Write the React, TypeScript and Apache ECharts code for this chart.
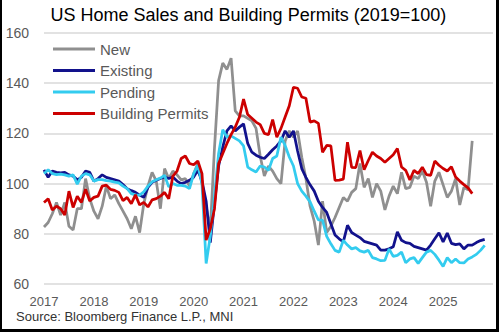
import React, { useEffect, useRef } from "react";
import * as echarts from "echarts";

// Monthly index values, 2019 = 100 (Jan 2017 onward)
const newHomeSales = [
  82.7, 84.5, 88, 92.5, 87.5, 92.5, 83, 81.5, 90, 90, 102, 94,
  89, 86, 91, 99, 94, 95.5, 92, 89, 86, 82, 87, 80.5,
  92, 99, 104.5, 101, 90, 106, 102, 105, 103.5, 101.5, 102, 99,
  104, 108, 100, 91, 81.5, 114, 141, 148, 145.5, 150, 129, 127,
  127, 126, 125, 122, 111, 103, 107, 105, 102, 100, 117, 121,
  118.5, 121, 110.5, 102, 91, 85, 75.5, 93, 80.5, 83, 86.5, 90.5,
  94.5, 93, 96.5, 98, 108, 98.5, 102, 94.5, 100, 97, 89.5, 95,
  99, 96, 104.5, 98, 98.5, 103, 102, 105, 100.5, 91, 101, 104.5,
  99.5, 94.5, 97, 102, 91.5, 98.5, 97.5, 117,
];
const existingHomeSales = [
  105.5, 102.5, 105, 104.5, 104.3, 104.5, 103.5, 103, 101.5, 102.5, 105, 104.5,
  101, 102, 103.5, 102.5, 102, 101.5, 101, 99.6, 98, 97.2, 96.5, 95.4,
  94.5, 98.5, 100.5, 101.3, 102, 102.6, 102, 102.6, 101, 100, 100.5, 101.3,
  102.6, 105.3, 101, 93, 76.5, 92, 107, 114.5, 121, 123, 121, 122.5,
  123.8, 116, 112.5, 111.3, 110.5, 110, 111.7, 113.5, 115, 117, 121, 118.5,
  121, 113, 106, 102.5, 99.5, 97, 93, 90.5, 88.5, 84, 79.5, 78,
  76.8, 83.4, 80.5, 79.5, 78.5, 77, 76.5, 76, 75.5, 73.5, 73.5, 74,
  74.8, 80.8, 77.4, 76.5, 76.2, 75, 74.5, 74, 73.5, 75.5, 78, 80.4,
  76.8, 80.3, 76.2, 75.7, 76, 74, 75.5, 75.5, 76.5, 77.3, 77.8,
];
const pendingHomeSales = [
  104, 105.5, 104, 103.6, 103.8, 103.5, 103, 103.5, 99.8, 103, 104, 103.5,
  101, 101.6, 101.6, 101.2, 101, 100.6, 100.3, 99, 98, 96, 95.5, 95.4,
  96.7, 99, 100.7, 101.5, 102.2, 103.3, 98.7, 100, 99.3, 99.3, 99, 98,
  104, 107.3, 100, 68.2, 79, 95, 112, 121.5, 118.5, 119, 118, 117,
  115, 106.6, 105.5, 104.6, 107, 106.6, 105.3, 110, 111, 118.5, 115.2, 110.6,
  107, 100, 97, 95, 92.7, 89, 85.5, 85.4, 79, 76, 73.4, 72.7,
  77.4, 75.5, 74, 74.5, 73.2, 72.7, 73.4, 70.5, 70, 69.3, 69.4, 74,
  71, 71.4, 72.7, 68.5, 70, 70.5, 68.2, 70.5, 72.7, 73.4, 71.8, 69.5,
  67, 70.5, 68.5, 70, 68.5, 68.4, 70, 70.8, 71.8, 73.4, 75.4,
];
const buildingPermits = [
  92.5, 94, 89.5, 91, 90, 87.5, 97, 90.5, 95, 92.5, 97.8, 93.1,
  94.5, 95, 99, 99.4, 97.7, 97.3, 96.5, 93.2, 94.5, 92, 95.5, 91.5,
  92.5, 90.7, 93.5, 94, 95, 96.5, 94, 103, 105, 110, 111, 108,
  107.5, 109, 104, 77.5, 82, 90, 108, 112, 116, 119.5, 122.5, 126.4,
  133.7, 127.5, 126, 124.5, 123.5, 120, 119.5, 125.5, 118.5, 122, 126.5, 131,
  138.4, 138, 134.5, 134, 124.5, 125, 124, 112.5, 115.2, 115, 101.3, 101.4,
  101.8, 116.5, 106.5, 106.4, 113.2, 105.5, 109.2, 112.5, 111, 110, 108.5, 110,
  111.5, 114, 106.6, 105.3, 101.5, 105.3, 104, 106.5, 103.6, 103.3, 109, 107.3,
  106, 105, 106.7, 102.6, 101, 99.6, 98.3, 96,
];

const startYear = 2017;
const lastLabelYear = 2025;
// Monthly categories Jan 2017 .. Jan 2026
const months: string[] = [];
for (let y = startYear; y <= 2026; y++) {
  for (let mo = 1; mo <= 12; mo++) {
    if (y === 2026 && mo > 1) break;
    months.push(`${y}-${String(mo).padStart(2, "0")}`);
  }
}

const seriesNames = ["New", "Existing", "Pending", "Building Permits"];
const seriesColors = ["#8f8f8f", "#12128c", "#33ccef", "#cc0000"];
const seriesData = [newHomeSales, existingHomeSales, pendingHomeSales, buildingPermits];

const FONT = "'Liberation Sans', Arial, sans-serif";

export default function App() {
  const ref = useRef<HTMLDivElement>(null);
  useEffect(() => {
    if (!ref.current) return;
    const chart = echarts.init(ref.current, undefined, { renderer: "svg" });
    chart.setOption({
      animation: false,
      backgroundColor: "#ffffff",
      textStyle: { fontFamily: FONT },
      title: {
        text: "US Home Sales and Building Permits (2019=100)",
        left: 45.5,
        top: 1,
        textStyle: { fontSize: 18, fontWeight: "normal", color: "#000000", fontFamily: FONT },
      },
      legend: {
        orient: "vertical",
        left: 48,
        top: 35,
        icon: "rect",
        itemWidth: 42,
        itemHeight: 3,
        itemGap: 3.5,
        textStyle: { fontSize: 15, color: "#595959", lineHeight: 18, fontFamily: FONT },
        data: seriesNames,
      },
      grid: { left: 44, right: 6, top: 33, bottom: 48, containLabel: false },
      xAxis: {
        type: "category",
        data: months,
        boundaryGap: false,
        axisLine: { show: false },
        axisTick: { show: false },
        splitLine: { show: false },
        axisLabel: {
          interval: (idx: number) => idx % 12 === 0 && idx / 12 + startYear <= lastLabelYear,
          formatter: (v: string) => v.slice(0, 4),
          fontSize: 13,
          lineHeight: 14,
          color: "#595959",
          margin: 10,
          fontFamily: FONT,
        },
      },
      yAxis: {
        type: "value",
        min: 60,
        max: 160,
        interval: 20,
        axisLine: { show: false },
        axisTick: { show: false },
        splitLine: { lineStyle: { color: "#d9d9d9", width: 1.5 } },
        axisLabel: { fontSize: 14, color: "#595959", margin: 15, fontFamily: FONT },
      },
      series: seriesNames.map((name, i) => ({
        name,
        type: "line",
        data: seriesData[i],
        symbol: "none",
        z: 2 + i,
        lineStyle: { color: seriesColors[i], width: 2.75 },
        itemStyle: { color: seriesColors[i] },
      })),
      graphic: [
        {
          type: "text",
          left: 16,
          top: 309.5,
          style: {
            text: "Source: Bloomberg Finance L.P., MNI",
            fontSize: 13,
            lineHeight: 14,
            fill: "#333333",
            fontFamily: FONT,
          },
        },
      ],
    });
    return () => chart.dispose();
  }, []);

  return (
    <div style={{ position: "absolute", left: 0, top: 0, width: 499, height: 332 }}>
      <div ref={ref} style={{ width: 499, height: 332 }} />
      <div style={{ position: "absolute", left: 0, top: 0, width: 2, height: 332, background: "#000" }} />
      <div style={{ position: "absolute", right: 0, top: 0, width: 3, height: 332, background: "#000" }} />
      <div style={{ position: "absolute", left: 0, bottom: 0, width: 499, height: 3, background: "#000" }} />
    </div>
  );
}
